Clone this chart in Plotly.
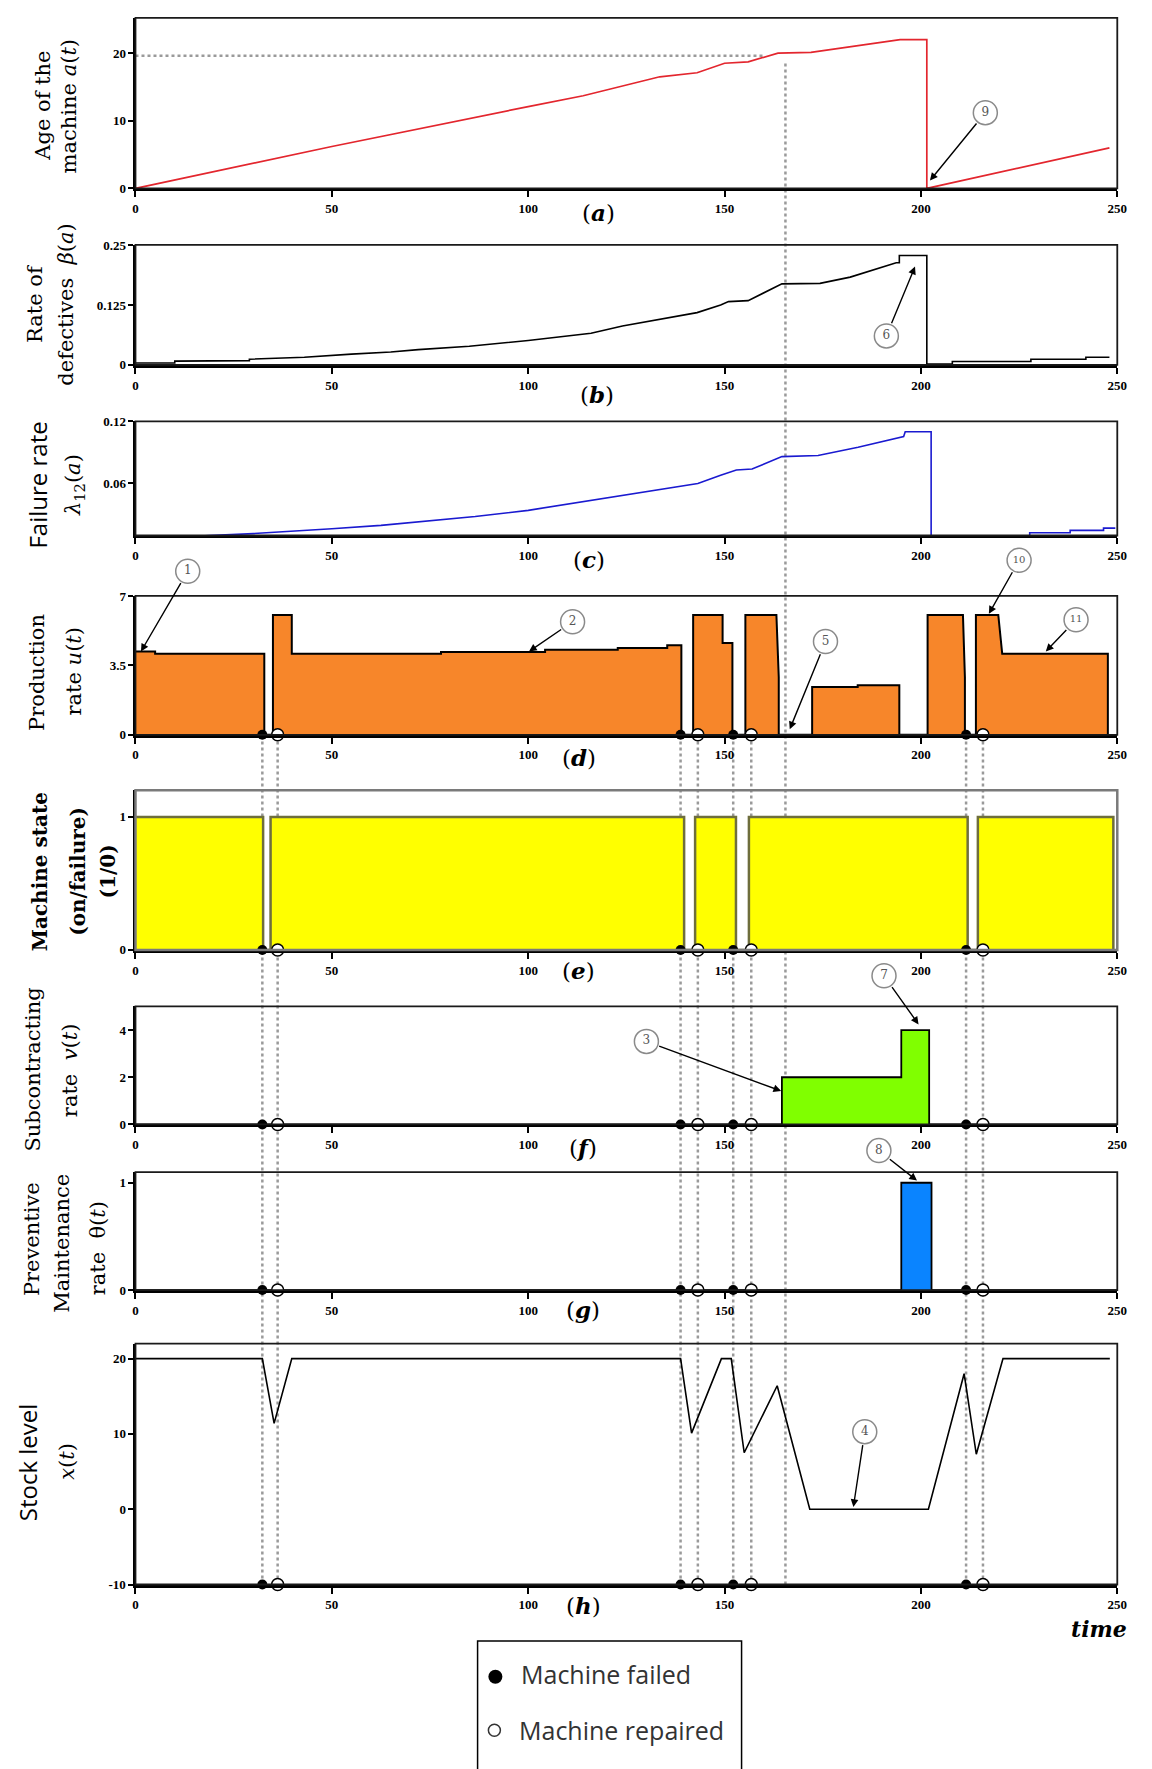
import plotly.graph_objects as go

W, H = 1152, 1769


def X(px):
    return px / W


def Y(py):
    return 1 - py / H


# ---------------- data ----------------
# (a) age of the machine
t_age = [0, 50, 100, 114, 133.5, 139, 143, 150, 156, 163.6, 172, 194.7, 201.5, 201.5, 248]
age = [0, 6.2, 12.1, 13.7, 16.5, 16.9, 17.1, 18.5, 18.7, 20.0, 20.1, 22.0, 22.0, 0, 6.0]

# (b) rate of defectives
t_beta = [0, 10, 10, 29, 29, 43, 55, 65, 72, 85, 100, 116, 124, 133, 143, 149, 151, 156, 160, 164.6,
          174.3, 182, 193.7, 194.5, 194.5, 201.5, 201.5, 208, 208, 228, 228, 242, 242, 248]
beta = [0.004, 0.004, 0.008, 0.009, 0.012, 0.016, 0.0225, 0.027, 0.032, 0.039, 0.051, 0.066, 0.081,
        0.094, 0.109, 0.125, 0.132, 0.134, 0.15, 0.169, 0.170, 0.183, 0.213, 0.213, 0.228, 0.228,
        0.002, 0.002, 0.007, 0.007, 0.012, 0.012, 0.016, 0.016]

# (c) failure rate
t_lam = [0, 18.7, 30, 39.4, 50, 62.5, 72, 86.5, 100, 116.3, 123.8, 143.2, 149, 153, 157, 164.6, 173.8,
         184, 195.6, 196, 202.6, 202.6, 227.7, 227.7, 238, 238, 246.5, 246.5, 249.5]
lam = [0.005, 0.0097, 0.0115, 0.0136, 0.0162, 0.0195, 0.0227, 0.028, 0.034, 0.0438, 0.0486, 0.06,
       0.068, 0.073, 0.074, 0.086, 0.087, 0.095, 0.1054, 0.110, 0.110, 0.003, 0.008, 0.0124, 0.0124,
       0.0146, 0.0146, 0.0168, 0.0168]

# (d) production rate
t_u = [0, 5, 5, 32.8, 32.8, 35, 35, 39.8, 39.8, 77.8, 77.8, 104.3, 104.3, 122.8, 122.8, 135.4, 135.4,
       139, 139, 142, 142, 149.5, 149.5, 152, 152, 155.3, 155.3, 163.2, 163.8, 163.8, 172.3, 172.3,
       183.9, 183.9, 194.5, 194.5, 201.7, 201.7, 210.7, 211.2, 211.2, 214, 214, 219.7, 220.7, 247.6, 247.6]
u = [4.2, 4.2, 4.09, 4.09, 0, 0, 6.04, 6.04, 4.09, 4.09, 4.18, 4.18, 4.29, 4.29, 4.38, 4.38, 4.51,
     4.51, 0, 0, 6.04, 6.04, 4.63, 4.63, 0, 0, 6.04, 6.04, 2.9, 0, 0, 2.41, 2.41, 2.5, 2.5, 0, 0,
     6.04, 6.04, 2.9, 0, 0, 6.04, 6.04, 4.08, 4.08, 0]

# (e) machine state (step changes)
t_state = [0, 32.5, 34.4, 139.7, 142.5, 152.9, 156.2, 211.9, 214.5, 249]
state = [1, 0, 1, 0, 1, 0, 1, 0, 1, 0]

# (f) subcontracting rate (step changes)
t_v = [0, 164.6, 195, 202.1, 250]
v = [0, 2, 4, 0, 0]

# (g) preventive maintenance rate (step changes)
t_theta = [0, 195, 202.7, 250]
theta = [0, 1, 0, 0]

# (h) stock level
t_x = [0, 32.3, 35.3, 39.8, 138.8, 141.6, 149.2, 151.7, 155.0, 163.4, 171.7, 201.9, 211, 214.1, 220.9, 248.1]
x_stock = [20, 20, 11.4, 20, 20, 10.1, 20, 20, 7.5, 16.4, 0, 0, 18.0, 7.3, 20, 20]

# failure / repair events
t_fail = [32.3, 138.8, 152.2, 211.5]
t_repair = [36.2, 143.2, 156.8, 215.8]

# reference instant and age level (dotted guide lines)
t_ref = 165.5
age_ref = 19.6

x_ticks = [0, 50, 100, 150, 200, 250]
x_ticktext = ['0', '50', '100', '150', '200', '250']

# ---------------- layout of the panels ----------------
XL, XR = 134, 1127
# top px, bottom px, y range, tick values, tick text, label
panels = [
    (11, 183, [0, 25.2], [0, 10, 20], ['0', '10', '20'], 'a'),
    (240, 361, [0, 0.25], [0, 0.125, 0.25], ['0', '0.125', '0.25'], 'b'),
    (418, 533, [0.0097, 0.12], [0.06, 0.12], ['0.06', '0.12'], 'c'),
    (594, 734, [0, 7], [0, 3.5, 7], ['0', '3.5', '7'], 'd'),
    (790, 951, [0, 1.2], [0, 1], ['0', '1'], 'e'),
    (1008, 1127, [0, 5], [0, 2, 4], ['0', '2', '4'], 'f'),
    (1175, 1294, [0, 1.1], [0, 1], ['0', '1'], 'g'),
    (1348, 1591, [-10, 22], [-10, 0, 10, 20], ['-10', '0', '10', '20'], 'h'),
]
label_pos = [(602, 207), (601, 391), (593, 557), (583, 757), (582, 972), (587, 1150), (587, 1314), (587, 1612)]


def refs(i):
    return ('x' if i == 0 else f'x{i + 1}', 'y' if i == 0 else f'y{i + 1}')


def to_px(p, t, val):
    """Map a data point of panel p to figure pixels (for decorations drawn on the overlay)."""
    top, bot, yr = panels[p][0], panels[p][1], panels[p][2]
    px = XL + (t / 250.0) * (XR - XL)
    py = bot - (val - yr[0]) / (yr[1] - yr[0]) * (bot - top)
    return px, py


fig = go.Figure()
TICKFONT = dict(family='Liberation Serif', size=13, color='black', weight='bold')

layout_axes = {}
shapes = []
annotations = []
for i, (top, bot, yr, tv, tt, lab) in enumerate(panels):
    xr, yrf = refs(i)
    xname = 'xaxis' if i == 0 else f'xaxis{i + 1}'
    yname = 'yaxis' if i == 0 else f'yaxis{i + 1}'
    layout_axes[xname] = dict(domain=[X(XL), X(XR)], range=[0, 250], anchor=yrf, showgrid=False,
                              zeroline=False, showline=True, linewidth=3, linecolor='black',
                              ticks='outside', ticklen=6, tickwidth=1.5, tickcolor='black',
                              tickvals=x_ticks, ticktext=x_ticktext, tickfont=TICKFONT, fixedrange=True)
    layout_axes[yname] = dict(domain=[Y(bot), Y(top)], range=yr, anchor=xr, showgrid=False,
                              zeroline=False, showline=True, linewidth=2, linecolor='black',
                              ticks='outside', ticklen=5, tickwidth=1.5, tickcolor='black',
                              tickvals=tv, ticktext=tt, tickfont=TICKFONT, fixedrange=True)
    bcol = '#7a7a7a' if lab == 'e' else '#1a1a1a'
    bw = 2.5 if lab == 'e' else 1.8
    shapes.append(dict(type='rect', xref=f'{xr} domain', yref=f'{yrf} domain', x0=0, x1=1, y0=0, y1=1,
                       line=dict(color=bcol, width=bw), layer='above'))
    lx, ly = label_pos[i]
    annotations.append(dict(x=X(lx), y=Y(ly), xref='paper', yref='paper', showarrow=False,
                            text=f'(<b><i>{lab}</i></b>)', xanchor='center', yanchor='middle',
                            font=dict(family='DejaVu Serif', size=23, color='black')))

# overlay axis covering the whole figure in pixel units (for callout circles and legend marks)
layout_axes['xaxis10'] = dict(domain=[0, 1], range=[0, W], visible=False, anchor='y10', fixedrange=True)
layout_axes['yaxis10'] = dict(domain=[0, 1], range=[H, 0], visible=False, anchor='x10', fixedrange=True)

# ---------------- traces ----------------
fig.add_trace(go.Scatter(x=t_age, y=age, mode='lines', line=dict(color='#E3262E', width=1.7),
                         xaxis='x', yaxis='y'))
fig.add_trace(go.Scatter(x=t_beta, y=beta, mode='lines', line=dict(color='black', width=1.6),
                         xaxis='x2', yaxis='y2'))
fig.add_trace(go.Scatter(x=t_lam, y=lam, mode='lines', line=dict(color='#1a1ad0', width=1.6),
                         xaxis='x3', yaxis='y3'))
fig.add_trace(go.Scatter(x=t_u, y=u, mode='lines', fill='tozeroy', fillcolor='#F7862A',
                         line=dict(color='black', width=2), xaxis='x4', yaxis='y4'))
fig.add_trace(go.Scatter(x=t_state, y=state, mode='lines', line_shape='hv', fill='tozeroy',
                         fillcolor='#FFFF00', line=dict(color='#6e6e3c', width=2.5),
                         xaxis='x5', yaxis='y5'))
fig.add_trace(go.Scatter(x=t_v, y=v, mode='lines', line_shape='hv', fill='tozeroy',
                         fillcolor='#80FF00', line=dict(color='black', width=1.8),
                         xaxis='x6', yaxis='y6'))
fig.add_trace(go.Scatter(x=t_theta, y=theta, mode='lines', line_shape='hv', fill='tozeroy',
                         fillcolor='#0A84FF', line=dict(color='black', width=1.8),
                         xaxis='x7', yaxis='y7'))
fig.add_trace(go.Scatter(x=t_x, y=x_stock, mode='lines', line=dict(color='black', width=1.6),
                         xaxis='x8', yaxis='y8'))

# failure / repair markers on panels d..h
for i in range(3, 8):
    xr, yrf = refs(i)
    base = panels[i][2][0]
    fig.add_trace(go.Scatter(x=t_fail, y=[base] * len(t_fail), mode='markers', cliponaxis=False,
                             marker=dict(color='black', size=10), xaxis=xr, yaxis=yrf))
    fig.add_trace(go.Scatter(x=t_repair, y=[base] * len(t_repair), mode='markers', cliponaxis=False,
                             marker=dict(color='white', size=12, line=dict(color='black', width=1.5)),
                             xaxis=xr, yaxis=yrf))

# numbered callouts: panel, label, circle position, arrow head position (panel data units)
callouts = [
    (3, '1', 13.3, 8.25, 1.4, 4.2),
    (3, '2', 111.3, 5.7, 100.2, 4.2),
    (5, '3', 130.1, 3.52, 164.4, 1.42),
    (7, '4', 185.7, 10.3, 182.8, 0.3),
    (3, '5', 175.7, 4.7, 166.6, 0.28),
    (1, '6', 191.2, 0.0605, 198.5, 0.205),
    (5, '7', 190.6, 6.3, 199.4, 4.24),
    (6, '8', 189.3, 1.30, 199.0, 1.02),
    (0, '9', 216.4, 11.2, 202.3, 1.17),
    (3, '10', 225.0, 8.8, 217.3, 6.1),
    (3, '11', 239.5, 5.8, 231.8, 4.2),
]
circ_x, circ_y, circ_txt, circ_size = [], [], [], []
for (p, lab, ct, cv, ht, hv) in callouts:
    xr, yrf = refs(p)
    annotations.append(dict(x=ht, y=hv, xref=xr, yref=yrf, ax=ct, ay=cv, axref=xr, ayref=yrf,
                            text='', showarrow=True, arrowhead=2, arrowsize=1.1, arrowwidth=1.4,
                            arrowcolor='black', startstandoff=12, standoff=0))
    cx, cy = to_px(p, ct, cv)
    circ_x.append(cx)
    circ_y.append(cy)
    circ_txt.append(lab)
    circ_size.append(12 if len(lab) == 1 else 10)

fig.add_trace(go.Scatter(x=circ_x, y=circ_y, mode='markers+text', text=circ_txt,
                         textposition='middle center', cliponaxis=False,
                         textfont=dict(family='DejaVu Serif', size=circ_size, color='#555555'),
                         marker=dict(color='white', size=24, line=dict(color='#8a8a8a', width=1.5)),
                         xaxis='x10', yaxis='y10'))

# dotted guide lines
DOT = dict(color='#9a9a9a', width=2.5, dash='dot')
for t in t_fail + t_repair:
    shapes.append(dict(type='line', xref='x', yref='paper', x0=t, x1=t, y0=Y(1591), y1=Y(734),
                       line=DOT, layer='below'))
shapes.append(dict(type='line', xref='x', yref='paper', x0=t_ref, x1=t_ref, y0=Y(1591), y1=Y(54),
                   line=DOT, layer='below'))
shapes.append(dict(type='line', xref='x', yref='y', x0=0, x1=160, y0=age_ref, y1=age_ref,
                   line=DOT, layer='below'))

# y-axis titles (one annotation per line, rotated)
SERIF = dict(family='DejaVu Serif', size=21, color='black')
SERIFB = dict(family='DejaVu Serif', size=20, color='black', weight='bold')
SANS = dict(family='Open Sans', size=24, color='black')
titles = [
    (41, 100, 'Age of the', SERIF), (67, 100, 'machine <i>a</i>(<i>t</i>)', SERIF),
    (33, 299, 'Rate of', SERIF), (64, 300, 'defectives  <i>β</i>(<i>a</i>)', SERIF),
    (35, 482, 'Failure rate', SANS), (72, 482, '<i>λ</i><sub>12</sub>(<i>a</i>)', SERIF),
    (35, 671, 'Production', SERIF), (72, 670, 'rate <i>u</i>(<i>t</i>)', SERIF),
    (37, 872, 'Machine state', SERIFB), (75, 872, '(on/failure)', SERIFB), (106, 872, '(1/0)', SERIFB),
    (30, 1072, 'Subcontracting', SERIF), (68, 1072, 'rate  <i>v</i>(<i>t</i>)', SERIF),
    (30, 1243, 'Preventive', SERIF), (60, 1247, 'Maintenance', SERIF), (96, 1252, 'rate  θ(<i>t</i>)', SERIF),
    (25, 1468, 'Stock level', SANS), (64, 1467, '<i>x</i>(<i>t</i>)', SERIF),
]
for (px, py, txt, f) in titles:
    annotations.append(dict(x=X(px), y=Y(py), xref='paper', yref='paper', text=txt, textangle=-90,
                            showarrow=False, xanchor='center', yanchor='middle', font=f))

annotations.append(dict(x=X(1109), y=Y(1636), xref='paper', yref='paper', text='<b><i>time</i></b>',
                        showarrow=False, xanchor='center', yanchor='middle',
                        font=dict(family='DejaVu Serif', size=22, color='black')))

# legend box
shapes.append(dict(type='rect', xref='paper', yref='paper', x0=X(480), x1=X(747), y0=Y(1780), y1=Y(1648),
                   line=dict(color='black', width=1.5), layer='above'))
LEGFONT = dict(family='Open Sans', size=25, color='#333333')
annotations.append(dict(x=X(522), y=Y(1681), xref='paper', yref='paper', text='Machine failed',
                        showarrow=False, xanchor='left', yanchor='middle', font=LEGFONT))
annotations.append(dict(x=X(520), y=Y(1738), xref='paper', yref='paper', text='Machine repaired',
                        showarrow=False, xanchor='left', yanchor='middle', font=LEGFONT))
fig.add_trace(go.Scatter(x=[498], y=[1684], mode='markers', marker=dict(color='black', size=14),
                         xaxis='x10', yaxis='y10', cliponaxis=False))
fig.add_trace(go.Scatter(x=[497], y=[1738], mode='markers', cliponaxis=False,
                         marker=dict(color='white', size=12, line=dict(color='#333333', width=1.5)),
                         xaxis='x10', yaxis='y10'))

fig.update_layout(width=W, height=H, margin=dict(l=0, r=0, t=0, b=0), autosize=False,
                  paper_bgcolor='white', plot_bgcolor='rgba(0,0,0,0)', showlegend=False,
                  shapes=shapes, annotations=annotations, **layout_axes)

fig.write_html("out.html", config={'displayModeBar': False},
               post_script="document.body.style.margin='0';document.body.style.overflow='hidden';")
